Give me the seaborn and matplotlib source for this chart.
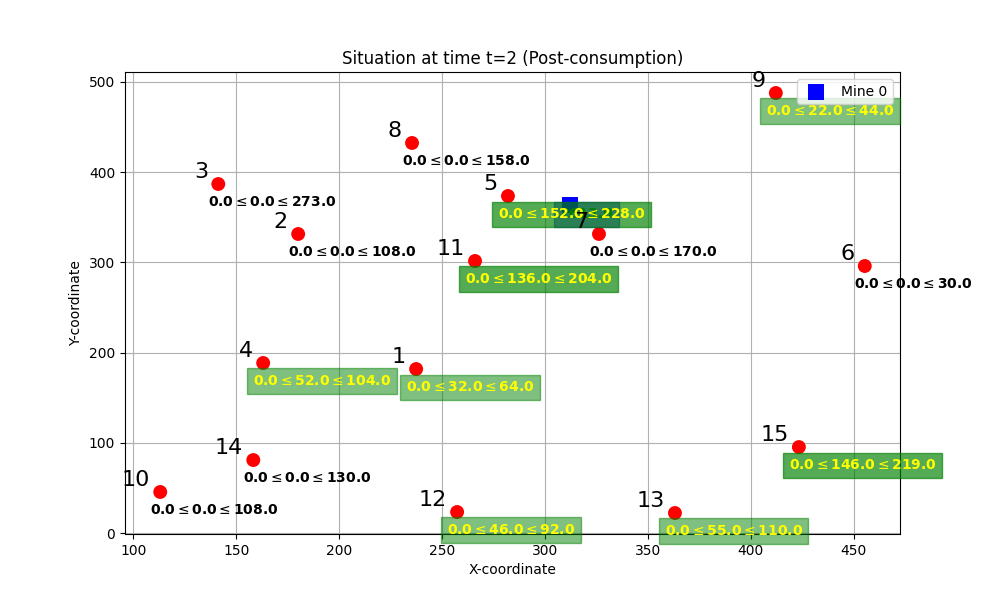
import matplotlib
matplotlib.use('Agg')
import matplotlib.pyplot as plt
import seaborn as sns
import pandas as pd

# customers
cust_ids = [1, 2, 3, 4, 5, 6, 7, 8, 9, 10, 11, 12, 13, 14, 15]
cust_x = [237.4, 180.1, 141.3, 163.1, 282.0, 455.3, 326.2, 235.4, 412.1, 113.1, 266.0, 257.3, 363.1, 158.3, 423.3]
cust_y = [181.8, 331.5, 386.9, 188.5, 373.6, 296.0, 331.5, 432.4, 487.8, 45.5, 301.6, 23.3, 22.2, 80.9, 95.3]
cust_lo = [0.0] * 15
cust_val = [32.0, 0.0, 0.0, 52.0, 152.0, 0.0, 0.0, 0.0, 22.0, 0.0, 136.0, 46.0, 55.0, 0.0, 146.0]
cust_hi = [64.0, 108.0, 273.0, 104.0, 228.0, 30.0, 170.0, 158.0, 44.0, 108.0, 204.0, 92.0, 110.0, 130.0, 219.0]

# mines
mine_names = ['Mine 0']
mine_x = [312.1]
mine_y = [363.6]
mine_stock = [2613.0]

df_c = pd.DataFrame({'x': cust_x, 'y': cust_y})
df_m = pd.DataFrame({'x': mine_x, 'y': mine_y, 'name': mine_names})

fig, ax = plt.subplots(figsize=(10, 6), dpi=100)

sns.scatterplot(data=df_m, x='x', y='y', marker='s', s=130, color='blue',
                edgecolor='none', label='Mine 0', ax=ax, zorder=2)
for mx, my, st in zip(mine_x, mine_y, mine_stock):
    ax.text(mx - 5, my - 10, f'{st:.1f}', color='green', fontweight='bold', fontsize=10,
            ha='left', va='center', bbox=dict(facecolor='blue', edgecolor='blue', alpha=0.5))

sns.scatterplot(data=df_c, x='x', y='y', color='red', s=100, edgecolor='none', ax=ax, zorder=2)

for i, cid in enumerate(cust_ids):
    x, y = cust_x[i], cust_y[i]
    ax.text(x - 5, y + 2, str(cid), fontsize=16, ha='right', va='bottom')
    label = f'{cust_lo[i]:.1f}$\\leq${cust_val[i]:.1f}$\\leq${cust_hi[i]:.1f}'
    if cust_val[i] > 0:
        ratio = cust_val[i] / cust_hi[i]
        ax.text(x - 5, y - 20, label, fontsize=10, fontweight='bold', color='yellow',
                ha='left', va='center',
                bbox=dict(facecolor='green', edgecolor='green', alpha=ratio))
    else:
        ax.text(x - 5, y - 20, label, fontsize=10, fontweight='bold', color='black',
                ha='left', va='center')

ax.set_title('Situation at time t=2 (Post-consumption)')
ax.set_xlabel('X-coordinate')
ax.set_ylabel('Y-coordinate')
ax.grid(True)
ax.legend(loc='upper right')

plt.savefig('out.png', dpi=100)
